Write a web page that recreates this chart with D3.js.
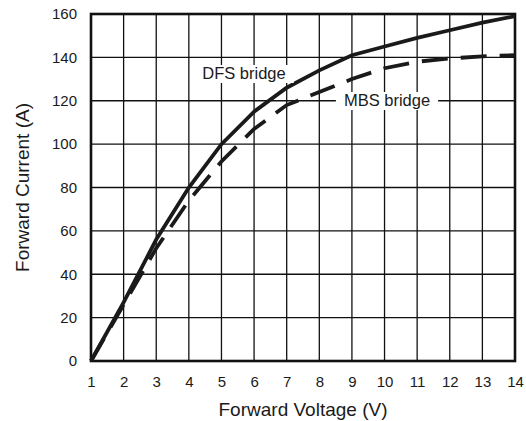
<!DOCTYPE html>
<html>
<head>
<meta charset="utf-8">
<script src="https://cdn.jsdelivr.net/npm/d3@7"></script>
<style>
  body { margin: 0; background: #fff; }
  text { font-family: "Liberation Sans", Arial, sans-serif; fill: #1a1a1a; }
</style>
</head>
<body>
<script>
// data
const voltage = [1, 2, 3, 4, 5, 6, 7, 8, 9, 10, 11, 12, 13, 14];
const dfsCurrent = [0, 27, 56, 80, 100, 115, 126, 134, 141, 145, 149, 152.5, 156, 159];
const mbsCurrent = [0, 26, 52, 74, 92, 107, 118, 124, 130, 135, 138, 139.5, 140.5, 141];
const xTicks = [1, 2, 3, 4, 5, 6, 7, 8, 9, 10, 11, 12, 13, 14];
const yTicks = [0, 20, 40, 60, 80, 100, 120, 140, 160];

const width = 526, height = 421;
const margin = {top: 14, right: 11, bottom: 60, left: 91};

const svg = d3.select("body").append("svg")
  .attr("width", width)
  .attr("height", height);

const x = d3.scaleLinear().domain([1, 14]).range([margin.left, width - margin.right]);
const y = d3.scaleLinear().domain([0, 160]).range([height - margin.bottom, margin.top]);

// grid
svg.append("g")
  .selectAll("line")
  .data(xTicks)
  .enter().append("line")
  .attr("x1", d => x(d)).attr("x2", d => x(d))
  .attr("y1", y(0)).attr("y2", y(160))
  .attr("stroke", "#111").attr("stroke-width", 1.3);

svg.append("g")
  .selectAll("line")
  .data(yTicks)
  .enter().append("line")
  .attr("x1", x(1)).attr("x2", x(14))
  .attr("y1", d => y(d)).attr("y2", d => y(d))
  .attr("stroke", "#111").attr("stroke-width", 1.3);

// axes (labels only)
const xAxis = svg.append("g")
  .attr("transform", `translate(0,${y(0)})`)
  .call(d3.axisBottom(x).tickValues(xTicks).tickSize(0).tickPadding(15).tickFormat(d3.format("d")));
const yAxis = svg.append("g")
  .attr("transform", `translate(${x(1)},0)`)
  .call(d3.axisLeft(y).tickValues(yTicks).tickSize(0).tickPadding(14).tickFormat(d3.format("d")));
[xAxis, yAxis].forEach(a => {
  a.select(".domain").remove();
  a.selectAll("text").style("font-size", "15px").attr("fill", "#1a1a1a");
});

// frame
svg.append("rect")
  .attr("x", x(1)).attr("y", y(160))
  .attr("width", x(14) - x(1)).attr("height", y(0) - y(160))
  .attr("fill", "none").attr("stroke", "#111").attr("stroke-width", 2.6);

// curves
const line = d3.line()
  .x((d, i) => x(voltage[i]))
  .y(d => y(d));

svg.append("path")
  .datum(mbsCurrent)
  .attr("d", line)
  .attr("fill", "none")
  .attr("stroke", "#1a1a1a")
  .attr("stroke-width", 3.8)
  .attr("stroke-dasharray", "26,13");

svg.append("path")
  .datum(dfsCurrent)
  .attr("d", line)
  .attr("fill", "none")
  .attr("stroke", "#1a1a1a")
  .attr("stroke-width", 3.8);

// curve labels with white boxes
function label(txt, cx, baseline) {
  const g = svg.append("g");
  const t = g.append("text")
    .attr("x", cx).attr("y", baseline)
    .attr("text-anchor", "middle")
    .style("font-size", "16.5px")
    .text(txt);
  const b = t.node().getBBox();
  g.insert("rect", "text")
    .attr("x", b.x - 8).attr("y", b.y + 1)
    .attr("width", b.width + 16).attr("height", b.height)
    .attr("fill", "#fff");
}
label("DFS bridge", 244, 79);
label("MBS bridge", 387, 106);

// axis titles
svg.append("text")
  .attr("x", (x(1) + x(14)) / 2)
  .attr("y", 416)
  .attr("text-anchor", "middle")
  .style("font-size", "19px")
  .text("Forward Voltage (V)");

svg.append("text")
  .attr("transform", `translate(29,${(y(0) + y(160)) / 2}) rotate(-90)`)
  .attr("text-anchor", "middle")
  .style("font-size", "19px")
  .text("Forward Current (A)");
</script>
</body>
</html>
